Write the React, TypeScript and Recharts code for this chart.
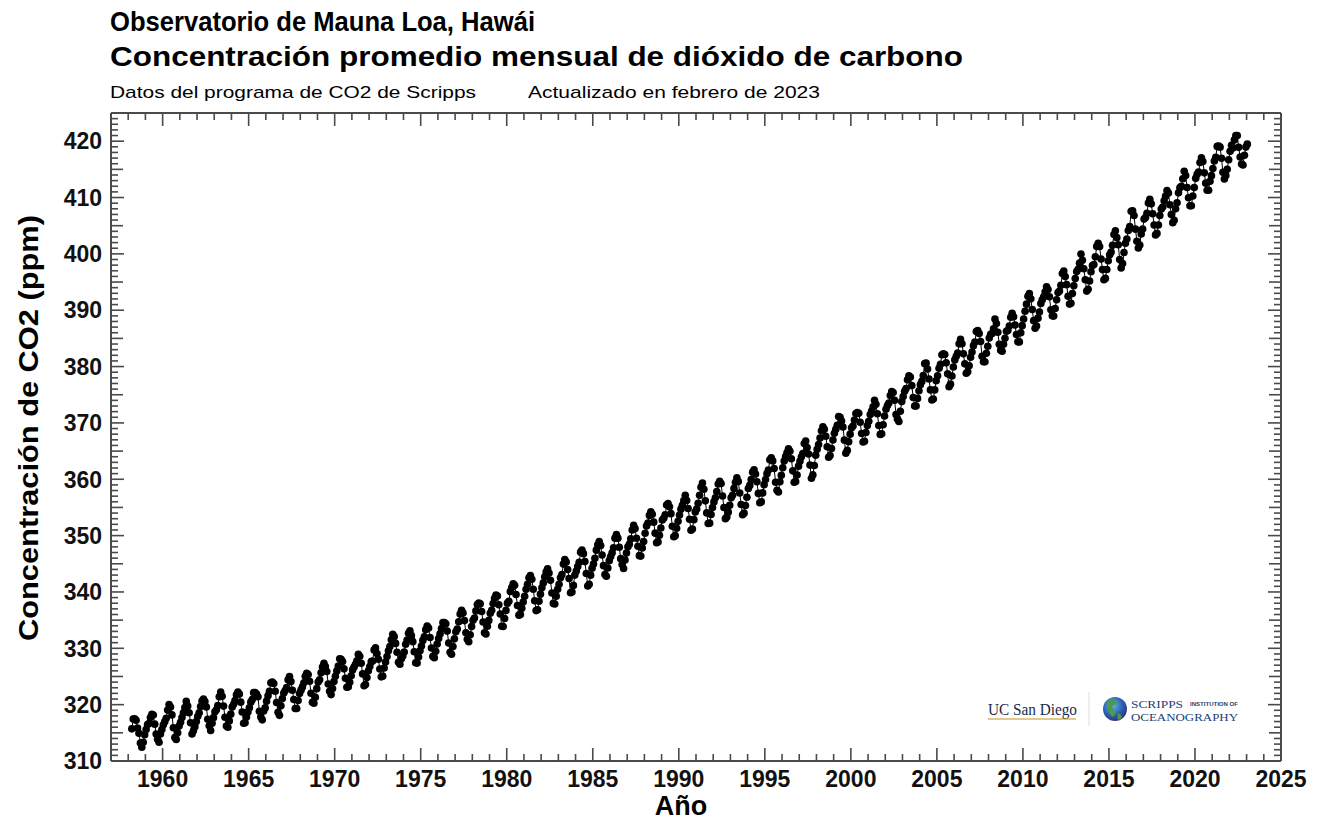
import React from "react";
import { LineChart, Line, XAxis, YAxis } from "recharts";

// Monthly mean CO2 (ppm), Mauna Loa. Each row = Jan..Dec; null = no data.
const firstYear = 1958;
const co2_1958_1969: (number | null)[][] = [
  [null, null, 315.71, 317.45, 317.51, 317.24, 315.86, 314.93, 313.2, 312.43, 313.33, 314.67],
  [315.58, 316.49, 316.65, 317.72, 318.29, 318.15, 316.54, 314.8, 313.84, 313.33, 314.81, 315.58],
  [316.43, 316.98, 317.58, 319.03, 320.04, 319.59, 318.18, 315.91, 314.16, 313.83, 315.0, 316.19],
  [316.89, 317.7, 318.54, 319.48, 320.58, 319.77, 318.57, 316.79, 314.8, 315.38, 316.1, 317.01],
  [317.94, 318.56, 319.68, 320.63, 321.01, 320.55, 319.58, 317.4, 316.26, 315.42, 316.69, 317.69],
  [318.74, 319.08, 319.86, 321.39, 322.25, 321.47, 319.74, 317.77, 316.21, 315.99, 317.12, 318.31],
  [319.57, 320.07, 320.73, 321.77, 322.25, 321.89, 320.44, 318.7, 316.7, 316.79, 317.79, 318.71],
  [319.44, 320.44, 320.89, 322.13, 322.16, 321.87, 321.39, 318.81, 317.81, 317.3, 318.87, 319.42],
  [320.62, 321.59, 322.39, 323.87, 324.01, 323.75, 322.39, 320.37, 318.64, 318.1, 319.79, 321.08],
  [322.07, 322.5, 323.04, 324.42, 325.0, 324.09, 322.55, 320.92, 319.31, 319.31, 320.72, 321.96],
  [322.57, 323.15, 323.89, 325.02, 325.57, 325.36, 324.14, 322.03, 320.41, 320.25, 321.31, 322.84],
  [324.0, 324.42, 325.64, 326.66, 327.34, 326.76, 325.88, 323.67, 322.38, 321.78, 322.85, 324.11],
];
const co2_1970s: (number | null)[][] = [
  [325.03, 325.99, 326.87, 328.13, 328.07, 327.66, 326.35, 324.69, 323.1, 323.16, 323.98, 325.13],
  [326.17, 326.68, 327.18, 327.78, 328.92, 328.57, 327.34, 325.46, 323.36, 323.57, 324.8, 326.01],
  [326.77, 327.63, 327.75, 329.72, 330.07, 329.09, 328.05, 326.32, 324.93, 325.06, 326.5, 327.55],
  [328.54, 329.56, 330.3, 331.5, 332.48, 332.07, 330.87, 329.31, 327.51, 327.18, 328.16, 328.64],
  [329.35, 330.71, 331.48, 332.65, 333.09, 332.25, 331.18, 329.4, 327.43, 327.37, 328.46, 329.57],
  [330.4, 331.4, 332.04, 333.31, 333.96, 333.59, 331.91, 330.06, 328.56, 328.34, 329.49, 330.76],
  [331.75, 332.56, 333.5, 334.58, 334.57, 334.34, 333.05, 330.94, 329.3, 328.94, 330.31, 331.68],
  [332.93, 333.42, 334.7, 336.07, 336.75, 336.27, 334.92, 332.75, 331.59, 331.16, 332.4, 333.85],
  [334.97, 335.38, 336.64, 337.76, 338.01, 337.89, 336.54, 334.68, 332.76, 332.54, 333.92, 334.95],
  [336.23, 336.76, 337.96, 338.89, 339.47, 339.29, 337.73, 336.09, 333.91, 333.86, 335.29, 336.73],
];
const co2_1980s: (number | null)[][] = [
  [338.01, 338.36, 340.08, 340.77, 341.46, 341.17, 339.56, 337.6, 335.88, 336.02, 337.1, 338.21],
  [339.24, 340.48, 341.38, 342.51, 342.91, 342.25, 340.49, 338.43, 336.69, 336.85, 338.36, 339.61],
  [340.75, 341.61, 342.7, 343.56, 344.13, 343.35, 342.06, 339.82, 337.97, 337.86, 339.26, 340.49],
  [341.38, 342.52, 343.1, 344.94, 345.75, 345.32, 343.99, 342.39, 339.86, 339.99, 341.16, 342.99],
  [343.7, 344.5, 345.28, 347.06, 347.43, 346.8, 345.39, 343.28, 341.07, 341.35, 342.98, 344.22],
  [344.97, 345.99, 347.42, 348.35, 348.93, 348.25, 346.56, 344.67, 343.09, 342.8, 344.24, 345.56],
  [346.3, 346.95, 347.85, 349.55, 350.21, 349.55, 347.94, 345.91, 344.86, 344.17, 345.66, 346.9],
  [348.02, 348.47, 349.42, 350.99, 351.84, 351.25, 349.52, 348.1, 346.44, 346.36, 347.81, 348.96],
  [350.43, 351.72, 352.22, 353.59, 354.22, 353.79, 352.39, 350.44, 348.72, 348.88, 350.07, 351.34],
  [352.76, 353.07, 353.68, 355.42, 355.67, 355.13, 353.9, 351.67, 349.8, 349.99, 351.3, 352.53],
];
const co2_1990s: (number | null)[][] = [
  [353.66, 354.7, 355.39, 356.2, 357.16, 356.22, 354.82, 352.91, 350.96, 351.18, 352.83, 354.21],
  [354.72, 355.75, 357.16, 358.6, 359.34, 358.24, 356.17, 354.03, 352.16, 352.21, 353.75, 354.99],
  [355.98, 356.72, 357.81, 359.15, 359.66, 359.25, 357.02, 355.0, 353.01, 353.31, 354.16, 355.4],
  [356.7, 357.17, 358.38, 359.46, 360.28, 359.6, 357.57, 355.52, 353.69, 353.99, 355.34, 356.8],
  [358.37, 358.91, 359.97, 361.26, 361.69, 360.94, 359.55, 357.49, 355.84, 356.0, 357.58, 359.04],
  [359.96, 361.0, 361.64, 363.45, 363.79, 363.26, 361.9, 359.46, 358.06, 357.75, 359.56, 360.7],
  [362.05, 363.25, 364.03, 364.72, 365.41, 364.97, 363.65, 361.49, 359.46, 359.6, 360.76, 362.33],
  [363.18, 364.0, 364.57, 366.35, 366.79, 365.62, 364.47, 362.51, 360.19, 360.77, 362.43, 364.28],
  [365.32, 366.15, 367.31, 368.61, 369.29, 368.87, 367.64, 365.77, 363.9, 364.23, 365.46, 366.97],
  [368.15, 368.87, 369.59, 371.14, 371.0, 370.35, 369.27, 366.94, 364.63, 365.12, 366.67, 368.01],
];
const co2_2000s: (number | null)[][] = [
  [369.14, 369.46, 370.52, 371.66, 371.82, 371.7, 370.12, 368.12, 366.62, 366.73, 368.29, 369.53],
  [370.28, 371.5, 372.12, 372.87, 374.02, 373.3, 371.62, 369.55, 367.96, 368.09, 369.68, 371.24],
  [372.43, 373.09, 373.52, 374.86, 375.55, 375.4, 374.02, 371.49, 370.71, 370.25, 372.08, 373.78],
  [374.68, 375.63, 376.11, 377.65, 378.35, 378.13, 376.62, 374.5, 372.99, 373.0, 374.35, 375.7],
  [376.79, 377.37, 378.41, 380.52, 380.63, 379.57, 377.79, 375.86, 374.06, 374.24, 375.86, 377.48],
  [378.37, 379.69, 380.41, 382.1, 382.28, 382.13, 380.66, 378.71, 376.42, 376.88, 378.32, 379.92],
  [381.18, 381.83, 382.42, 384.03, 384.82, 384.04, 382.28, 380.48, 378.81, 379.06, 380.14, 381.66],
  [382.58, 383.71, 384.34, 386.23, 386.41, 385.87, 384.45, 381.84, 380.86, 380.86, 382.36, 383.61],
  [385.07, 385.72, 385.85, 386.71, 388.45, 387.64, 386.1, 383.95, 382.91, 382.73, 383.96, 385.02],
  [386.26, 386.39, 387.2, 388.76, 389.46, 388.83, 387.37, 385.69, 384.39, 384.38, 385.99, 387.26],
];
const co2_2010s: (number | null)[][] = [
  [388.45, 389.82, 391.08, 392.46, 392.96, 392.03, 390.13, 388.15, 386.8, 387.18, 388.59, 389.68],
  [391.18, 391.84, 392.4, 393.25, 394.17, 393.66, 392.38, 390.08, 389.0, 388.96, 390.3, 391.86],
  [393.13, 393.42, 394.43, 396.51, 396.96, 395.97, 394.54, 392.47, 391.09, 391.23, 392.97, 394.34],
  [395.61, 396.85, 397.26, 398.35, 399.98, 398.87, 397.37, 395.41, 393.39, 393.7, 395.19, 396.82],
  [397.92, 398.1, 399.47, 401.33, 401.88, 401.31, 399.07, 397.21, 395.4, 395.65, 397.23, 398.79],
  [399.85, 400.31, 401.51, 403.45, 404.1, 402.88, 401.61, 399.0, 397.5, 398.28, 400.24, 401.89],
  [402.65, 404.16, 404.85, 407.57, 407.66, 406.81, 404.39, 402.25, 401.03, 401.57, 403.53, 404.42],
  [406.17, 406.46, 407.22, 409.04, 409.69, 408.88, 407.12, 405.13, 403.37, 403.63, 405.12, 406.81],
  [407.96, 408.32, 409.41, 410.24, 411.24, 410.79, 408.71, 406.99, 405.51, 405.95, 408.02, 409.07],
  [410.83, 411.75, 411.97, 413.32, 414.66, 413.92, 411.77, 409.95, 408.54, 408.53, 410.27, 411.76],
];
const co2_2020s: (number | null)[][] = [
  [413.4, 414.11, 414.51, 416.21, 417.07, 416.39, 414.38, 412.55, 411.29, 411.28, 412.89, 413.88],
  [415.15, 416.47, 417.16, 419.07, 419.13, 418.94, 416.96, 414.47, 413.3, 413.93, 415.01, 416.71],
  [418.19, 419.28, 418.81, 420.23, 420.99, 420.99, 418.9, 417.19, 415.95, 415.78, 417.51, 418.95],
  [419.47, null, null, null, null, null, null, null, null, null, null, null],
];

const xTicks: number[] = [];
for (let y = 1957; y <= 2025; y++) xTicks.push(y);
const yTicks: number[] = [];
for (let v = 310; v <= 425; v++) yTicks.push(v);

const allRows = [
  ...co2_1958_1969,
  ...co2_1970s,
  ...co2_1980s,
  ...co2_1990s,
  ...co2_2000s,
  ...co2_2010s,
  ...co2_2020s,
];
const data: { t: number; co2: number }[] = [];
allRows.forEach((row, i) => {
  row.forEach((v, m) => {
    if (v != null) data.push({ t: firstYear + i + (m + 0.5) / 12, co2: v });
  });
});

const FONT = '"Liberation Sans", Arial, Helvetica, sans-serif';
const SERIF = '"Liberation Serif", "DejaVu Serif", serif';
const AX = "#4a4a4a";

const BottomTick = (p: any) => {
  const { x, y, payload } = p;
  const v = payload.value;
  const major = v % 5 === 0;
  return (
    <g>
      <line x1={x} x2={x} y1={y} y2={y - (major ? 13 : 7)} stroke={AX} strokeWidth={1.6} />
      {major && (
        <text x={x} y={y + 26} textAnchor="middle" fontFamily={FONT} fontWeight={700} fontSize={23} fill="#111">
          {v}
        </text>
      )}
    </g>
  );
};
const TopTick = (p: any) => {
  const { x, y, payload } = p;
  const major = payload.value % 5 === 0;
  return <line x1={x} x2={x} y1={y} y2={y + (major ? 13 : 7)} stroke={AX} strokeWidth={1.6} />;
};
const yLen = (v: number) => (v % 10 === 0 ? 13 : v % 5 === 0 ? 12 : 7);
const LeftTick = (p: any) => {
  const { x, y, payload } = p;
  const v = payload.value;
  return (
    <g>
      <line x1={x} x2={x + yLen(v)} y1={y} y2={y} stroke={AX} strokeWidth={1.6} />
      {v % 10 === 0 && (
        <text x={x - 9} y={y} dy="0.36em" textAnchor="end" fontFamily={FONT} fontWeight={700} fontSize={23} fill="#111">
          {v}
        </text>
      )}
    </g>
  );
};
const RightTick = (p: any) => {
  const { x, y, payload } = p;
  return <line x1={x} x2={x - yLen(payload.value)} y1={y} y2={y} stroke={AX} strokeWidth={1.6} />;
};

const Globe = () => (
  <g>
    <defs>
      <radialGradient id="gl" cx="40%" cy="35%" r="70%">
        <stop offset="0%" stopColor="#5fb8e8" />
        <stop offset="60%" stopColor="#2b5fb0" />
        <stop offset="100%" stopColor="#3a2a7a" />
      </radialGradient>
    </defs>
    <circle cx={1115} cy={709} r={12} fill="url(#gl)" />
    <path d="M1108 701 q5 -3 9 1 q-2 4 -5 4 q1 4 4 6 q-1 4 -4 5 q-3 -4 -4 -8 q-2 -3 0 -8z" fill="#4f9a4a" />
    <path d="M1118 713 q3 1 4 4 q-2 3 -4 3 q-1 -3 0 -7z" fill="#4f9a4a" />
  </g>
);

const axisCommon = {
  tickSize: 0,
  tickMargin: 0,
  tickLine: false,
  interval: 0 as const,
  allowDataOverflow: true,
  axisLine: { stroke: AX, strokeWidth: 2 },
};

export default function App() {
  return (
    <div style={{ position: "absolute", left: 0, top: 0, width: 1318, height: 823, background: "#fff" }}>
      <div style={{ position: "absolute", left: 0, top: 0 }}>
        <LineChart width={1318} height={823} data={data} margin={{ top: 103, right: 27, bottom: 32, left: 51 }}>
          <XAxis
            xAxisId="b"
            dataKey="t"
            type="number"
            domain={[1957, 2025]}
            ticks={xTicks}
            height={30}
            tick={<BottomTick />}
            {...axisCommon}
          />
          <XAxis
            xAxisId="t"
            orientation="top"
            dataKey="t"
            type="number"
            domain={[1957, 2025]}
            ticks={xTicks}
            height={10}
            tick={<TopTick />}
            {...axisCommon}
          />
          <YAxis
            yAxisId="l"
            type="number"
            domain={[310, 425]}
            ticks={yTicks}
            width={60}
            tick={<LeftTick />}
            {...axisCommon}
          />
          <YAxis
            yAxisId="r"
            orientation="right"
            type="number"
            domain={[310, 425]}
            ticks={yTicks}
            width={10}
            tick={<RightTick />}
            {...axisCommon}
          />
          <Line
            xAxisId="b"
            yAxisId="l"
            dataKey="co2"
            type="linear"
            stroke="#000"
            strokeWidth={1}
            dot={{ r: 3.8, fill: "#000", stroke: "none" }}
            activeDot={false}
            isAnimationActive={false}
          />
          <Line
            xAxisId="t"
            yAxisId="r"
            dataKey="co2"
            type="linear"
            stroke="none"
            dot={false}
            activeDot={false}
            isAnimationActive={false}
          />
        </LineChart>
      </div>
      <svg width={1318} height={823} style={{ position: "absolute", left: 0, top: 0, pointerEvents: "none" }}>
        <text x={110} y={31} fontFamily={FONT} fontWeight={700} fontSize={27} fill="#000" textLength={425} lengthAdjust="spacingAndGlyphs">
          Observatorio de Mauna Loa, Hawái
        </text>
        <text x={110} y={66} fontFamily={FONT} fontWeight={700} fontSize={27} fill="#000" textLength={853} lengthAdjust="spacingAndGlyphs">
          Concentración promedio mensual de dióxido de carbono
        </text>
        <text x={110} y={98} fontFamily={FONT} fontSize={17} fill="#000" textLength={366} lengthAdjust="spacingAndGlyphs">
          Datos del programa de CO2 de Scripps
        </text>
        <text x={528} y={98} fontFamily={FONT} fontSize={17} fill="#000" textLength={292} lengthAdjust="spacingAndGlyphs">
          Actualizado en febrero de 2023
        </text>
        <text
          x={0}
          y={0}
          transform="translate(38,428) rotate(-90)"
          textAnchor="middle"
          fontFamily={FONT}
          fontWeight={700}
          fontSize={27}
          fill="#000"
          textLength={426}
          lengthAdjust="spacingAndGlyphs"
        >
          Concentración de CO2 (ppm)
        </text>
        <text x={681} y={815} textAnchor="middle" fontFamily={FONT} fontWeight={700} fontSize={27} fill="#000">
          Año
        </text>
        {/* logos */}
        <text x={988} y={715} fontFamily={SERIF} fontSize={16} fill="#182B49" textLength={89} lengthAdjust="spacingAndGlyphs">
          UC San Diego
        </text>
        <line x1={988} x2={1076} y1={719} y2={719} stroke="#C69214" strokeWidth={1} />
        <line x1={1089} x2={1089} y1={692} y2={726} stroke="#ddd" strokeWidth={1} />
        <Globe />
        <text x={1131} y={708} fontFamily={SERIF} fontSize={11} fill="#1f3f73" textLength={52} lengthAdjust="spacingAndGlyphs">
          SCRIPPS
        </text>
        <text x={1190} y={706} fontFamily={FONT} fontWeight={700} fontSize={4.5} fill="#1f3f73" textLength={48} lengthAdjust="spacingAndGlyphs">
          INSTITUTION OF
        </text>
        <text x={1131} y={721} fontFamily={SERIF} fontSize={11} fill="#1f3f73" textLength={107} lengthAdjust="spacingAndGlyphs">
          OCEANOGRAPHY
        </text>
      </svg>
    </div>
  );
}
